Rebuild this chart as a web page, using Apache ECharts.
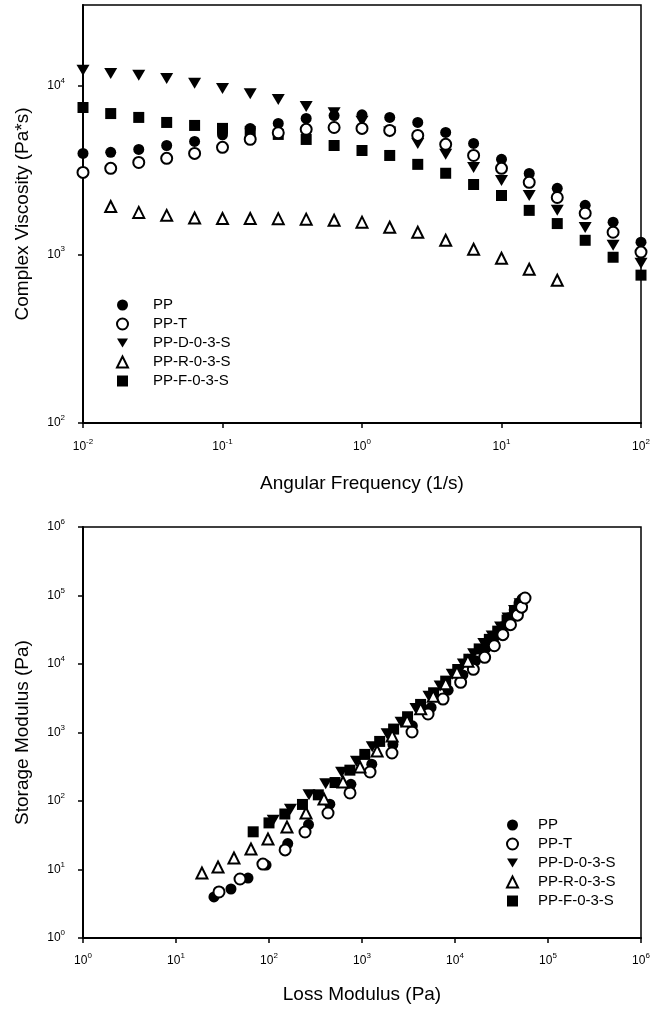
<!DOCTYPE html>
<html>
<head>
<meta charset="utf-8">
<script src="https://cdn.jsdelivr.net/npm/echarts@6/dist/echarts.min.js"></script>
<style>
  html, body { margin: 0; padding: 0; background: #fff; }
  #myChart { width: 666px; height: 1009px; }
</style>
</head>
<body>
<div id="myChart"></div>
<script>
// names of the five samples (legend order)
var seriesNames = ['PP', 'PP-T', 'PP-D-0-3-S', 'PP-R-0-3-S', 'PP-F-0-3-S']

// top chart: complex viscosity vs angular frequency
var freq = [0.01, 0.0158, 0.0251, 0.0398, 0.0631, 0.1, 0.158, 0.251, 0.398, 0.631, 1, 1.58, 2.51, 3.98, 6.31, 10, 15.8, 25.1, 39.8, 63.1, 100]
var etaPP = [3960, 4020, 4180, 4410, 4660, 5100, 5570, 5960, 6380, 6640, 6700, 6470, 6040, 5270, 4540, 3650, 3010, 2460, 1950, 1550, 1180]
var etaPPT = [3055, 3230, 3500, 3700, 3960, 4300, 4800, 5250, 5500, 5640, 5570, 5420, 5060, 4480, 3850, 3230, 2670, 2170, 1750, 1350, 1030]
var etaPPD = [12300, 11800, 11500, 11000, 10300, 9600, 8950, 8250, 7500, 6900, 6150, 5300, 4540, 3910, 3270, 2740, 2230, 1820, 1440, 1130, 885]
var etaPPR = [null, 1920, 1770, 1700, 1640, 1630, 1630, 1625, 1615, 1590, 1550, 1445, 1350, 1210, 1070, 947, 815, 702, null, null, null]
var etaPPF = [7410, 6820, 6470, 6040, 5800, 5570, 5350, 5130, 4790, 4410, 4120, 3850, 3410, 3020, 2590, 2230, 1820, 1520, 1210, 960, 752]
var etaTicks = [100, 1000, 10000]

// bottom chart: storage modulus vs loss modulus
var lossPP = [25.6, 39, 59.5, 93, 159, 266, 451, 760, 1274, 2150, 3480, 5530, 8440, 12160, 16620, 21580, 26730, 32350, 37790, 43330, 48760, 52700]
var storPP = [3.97, 5.19, 7.5, 11.6, 23.9, 45.3, 90, 175, 344, 666, 1253, 2320, 4140, 6930, 11130, 17050, 24860, 34940, 47240, 61530, 78000, 89600]
var lossPPT = [29, 48.8, 86, 149, 244, 431, 743, 1220, 2100, 3450, 5130, 7430, 11500, 15750, 20840, 26460, 32700, 39500, 46900, 52000, 56600]
var storPPT = [4.7, 7.27, 12.0, 19.3, 35.3, 66.8, 131, 265, 502, 1016, 1862, 3080, 5400, 8350, 12500, 18500, 26800, 37500, 51600, 67600, 92000]
var lossPPD = [111, 170, 269, 407, 603, 871, 1288, 1862, 2630, 3800, 5250, 6918, 9333, 12300, 15850, 20400, 25100, 30900, 37150, 43650, 50100]
var storPPD = [52.5, 75.9, 123, 178, 263, 380, 617, 955, 1413, 2239, 3388, 4786, 7079, 10000, 14130, 19950, 25700, 34700, 46800, 60300, 75900]
var lossPPR = [19.0, 28.3, 42, 64, 97.5, 156, 250, 390, 625, 952, 1454, 2110, 3057, 4277, 5839, 7938, 10490, 13760]
var storPPR = [8.9, 10.9, 14.7, 19.9, 27.9, 41.7, 66.8, 107, 189, 314, 538, 886, 1467, 2224, 3387, 5160, 7550, 11010]
var lossPPF = [67.6, 100, 148, 229, 339, 513, 741, 1072, 1549, 2188, 3090, 4266, 5888, 7943, 10700, 14100, 18200, 23400, 28800, 36300, 43650]
var storPPF = [35.5, 47.9, 64.6, 89.1, 123, 186, 282, 479, 741, 1122, 1698, 2570, 3802, 5623, 8318, 11750, 16600, 22900, 30200, 43650, 58900]

var FONT = 'Liberation Sans, Arial, sans-serif'

function pairs(xs, ys) {
  var out = []
  for (var i = 0; i < xs.length; i++) {
    if (ys[i] != null) out.push([xs[i], ys[i]])
  }
  return out
}

function powLabel(v) {
  var e = Math.round(Math.log(v) / Math.LN10)
  return '10{s|' + e + '}'
}

function logAxis(opt) {
  var axis = {
    type: 'log',
    logBase: 10,
    gridIndex: opt.grid,
    min: opt.min,
    max: opt.max,
    name: opt.name,
    nameLocation: 'middle',
    nameGap: opt.nameGap,
    nameTextStyle: { color: '#000', fontSize: 19, fontFamily: FONT },
    axisLine: { show: true, onZero: false, lineStyle: { color: '#000', width: 2 } },
    axisTick: { show: true, inside: false, length: 5, lineStyle: { color: '#000', width: 1.5 } },
    axisLabel: {
      color: '#000',
      fontSize: 12,
      lineHeight: 18,
      fontFamily: FONT,
      margin: opt.labelMargin,
      formatter: powLabel,
      rich: { s: { fontSize: 8, lineHeight: 8, verticalAlign: 'top', fontFamily: FONT, color: '#000' } }
    },
    splitLine: { show: false },
    minorTick: { show: false }
  }
  if (opt.ticks) {
    axis.axisTick.customValues = opt.ticks
    axis.axisLabel.customValues = opt.ticks
  }
  return axis
}

// marker look per sample, same in both panels
var looks = {
  'PP': { symbol: 'circle' },
  'PP-T': { symbol: 'emptyCircle' },
  'PP-D-0-3-S': { symbol: 'path://M0,0L12,0L6,10Z' },
  'PP-R-0-3-S': { symbol: 'emptyTriangle' },
  'PP-F-0-3-S': { symbol: 'rect' }
}

function scatter(name, idx, data, size) {
  return {
    name: name,
    type: 'scatter',
    xAxisIndex: idx,
    yAxisIndex: idx,
    data: data,
    symbol: looks[name].symbol,
    symbolSize: name === 'PP-D-0-3-S' ? [size + 2, size] : size,
    itemStyle: { color: '#000', opacity: 1 },
    emphasis: { disabled: true },
    silent: true,
    animation: false
  }
}

function legendAt(left, top, textPad) {
  return {
    orient: 'vertical',
    left: left,
    top: top,
    padding: 0,
    itemWidth: 11,
    itemHeight: 11,
    itemGap: 3,
    selectedMode: false,
    data: seriesNames,
    textStyle: { color: '#000', fontSize: 15, lineHeight: 16, fontFamily: FONT, padding: [0, 0, 0, textPad] }
  }
}

var mainContainer = document.getElementById('myChart')
var myChart = echarts.init(mainContainer, null, { renderer: 'canvas' })

// draw order: filled marks under the open ones
var drawOrder = ['PP-F-0-3-S', 'PP-D-0-3-S', 'PP', 'PP-T', 'PP-R-0-3-S']
var topData = {
  'PP': pairs(freq, etaPP),
  'PP-T': pairs(freq, etaPPT),
  'PP-D-0-3-S': pairs(freq, etaPPD),
  'PP-R-0-3-S': pairs(freq, etaPPR),
  'PP-F-0-3-S': pairs(freq, etaPPF)
}
var bottomData = {
  'PP': pairs(lossPP, storPP),
  'PP-T': pairs(lossPPT, storPPT),
  'PP-D-0-3-S': pairs(lossPPD, storPPD),
  'PP-R-0-3-S': pairs(lossPPR, storPPR),
  'PP-F-0-3-S': pairs(lossPPF, storPPF)
}

var series = []
drawOrder.forEach(function(n) { series.push(scatter(n, 0, topData[n], 11)) })
drawOrder.forEach(function(n) { series.push(scatter(n, 1, bottomData[n], 11)) })

var option = {
  backgroundColor: '#fff',
  animation: false,
  grid: [
    { left: 83, top: 5, width: 558, height: 418, show: true, borderColor: '#000', borderWidth: 1.5, backgroundColor: 'transparent', outerBoundsMode: 'none' },
    { left: 83, top: 527, width: 558, height: 411, show: true, borderColor: '#000', borderWidth: 1.5, backgroundColor: 'transparent', outerBoundsMode: 'none' }
  ],
  legend: [
    legendAt(116, 297, 20),
    legendAt(506, 817, 15)
  ],
  xAxis: [
    logAxis({ grid: 0, min: 0.01, max: 100, name: 'Angular Frequency (1/s)', nameGap: 51, labelMargin: 15 }),
    logAxis({ grid: 1, min: 1, max: 1000000, name: 'Loss Modulus (Pa)', nameGap: 47, labelMargin: 14 })
  ],
  yAxis: [
    logAxis({ grid: 0, min: 100, max: 30000, name: 'Complex Viscosity (Pa*s)', nameGap: 51, labelMargin: 18, ticks: etaTicks }),
    logAxis({ grid: 1, min: 1, max: 1000000, name: 'Storage Modulus (Pa)', nameGap: 51, labelMargin: 18 })
  ],
  series: series
}

myChart.setOption(option)
</script>
</body>
</html>
